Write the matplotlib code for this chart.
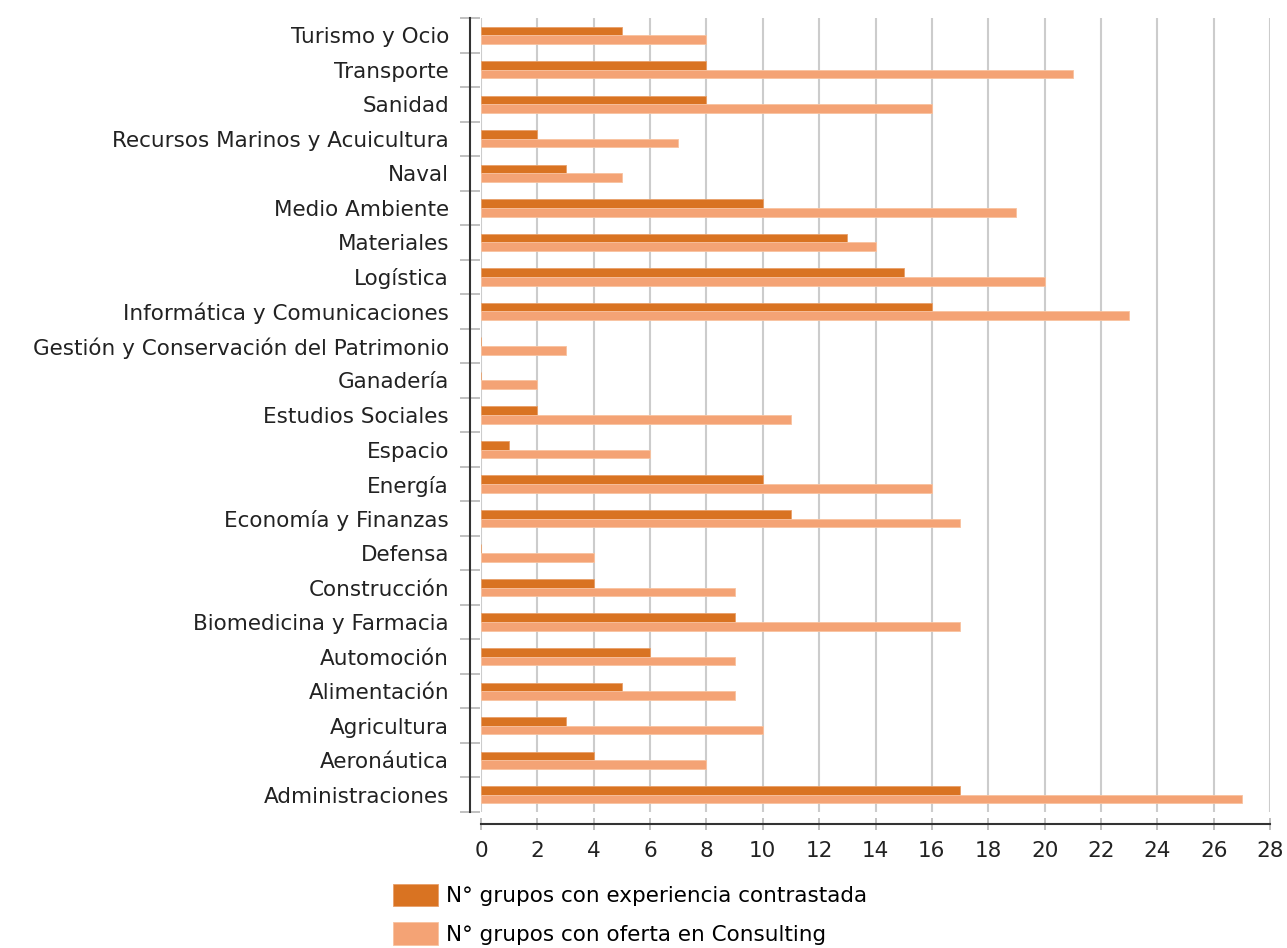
import matplotlib.pyplot as plt
import numpy as np

# categories from bottom to top
categorias = ['Administraciones', 'Aeronáutica', 'Agricultura', 'Alimentación',
              'Automoción', 'Biomedicina y Farmacia', 'Construcción', 'Defensa',
              'Economía y Finanzas', 'Energía', 'Espacio', 'Estudios Sociales',
              'Ganadería', 'Gestión y Conservación del Patrimonio',
              'Informática y Comunicaciones', 'Logística', 'Materiales',
              'Medio Ambiente', 'Naval', 'Recursos Marinos y Acuicultura',
              'Sanidad', 'Transporte', 'Turismo y Ocio']
experiencia = [17, 4, 3, 5, 6, 9, 4, 0, 11, 10, 1, 2, 0, 0, 16, 15, 13, 10, 3, 2, 8, 8, 5]
consulting = [27, 8, 10, 9, 9, 17, 9, 4, 17, 16, 6, 11, 2, 3, 23, 20, 14, 19, 5, 7, 16, 21, 8]
series = ['N° grupos con experiencia contrastada', 'N° grupos con oferta en Consulting']
xticks = np.arange(0, 29, 2)

c_dark = '#d97322'
c_light = '#f4a375'
fs = 15.5

plt.rcParams['font.family'] = 'DejaVu Sans'
fig = plt.figure(figsize=(12.87, 9.48), dpi=100)
ax = fig.add_axes([481/1287, 1 - 812/948, (1270-481)/1287, (812-18)/948])

y = np.arange(len(categorias))
h = 0.25
b1 = ax.barh(y + h/2, experiencia, height=h, color=c_dark, edgecolor='#e8a06a', linewidth=0.6, label=series[0], zorder=3)
b2 = ax.barh(y - h/2, consulting, height=h, color=c_light, edgecolor='#f8c29f', linewidth=0.6, label=series[1], zorder=3)

ax.set_xlim(0, 28)
ax.set_ylim(-0.5, len(categorias) - 0.5)
ax.set_xticks(xticks)
ax.grid(axis='x', color='#cccccc', linewidth=1.5, zorder=0)

# category labels on minor ticks, boundaries on major
ax.set_yticks(np.arange(-0.5, len(categorias)), labels=[])
ax.set_yticks(y, labels=categorias, minor=True)
ax.tick_params(axis='y', which='major', direction='inout', length=14, width=1.3, color='#bbbbbb')
ax.tick_params(axis='y', which='minor', length=0, pad=15, labelsize=fs, labelcolor='#222222')
ax.tick_params(axis='x', direction='inout', length=9, width=1.3, color='#bbbbbb', pad=8,
               labelsize=fs, labelcolor='#222222')

for s in ['top', 'right']:
    ax.spines[s].set_visible(False)
ax.spines['left'].set_position(('outward', 8))
ax.spines['bottom'].set_position(('outward', 8.5))
ax.spines['left'].set_color('#333333')
ax.spines['bottom'].set_color('#333333')
ax.spines['left'].set_linewidth(1.5)
ax.spines['bottom'].set_linewidth(1.5)

fig.legend(handles=[b1, b2], labels=series, loc='upper left',
           bbox_to_anchor=(393/1287, 1 - 884/948), frameon=False, fontsize=fs,
           handlelength=2.1, handleheight=1.2, handletextpad=0.35, labelspacing=0.75,
           borderaxespad=0, borderpad=0)

fig.savefig('out.png', dpi=100)
